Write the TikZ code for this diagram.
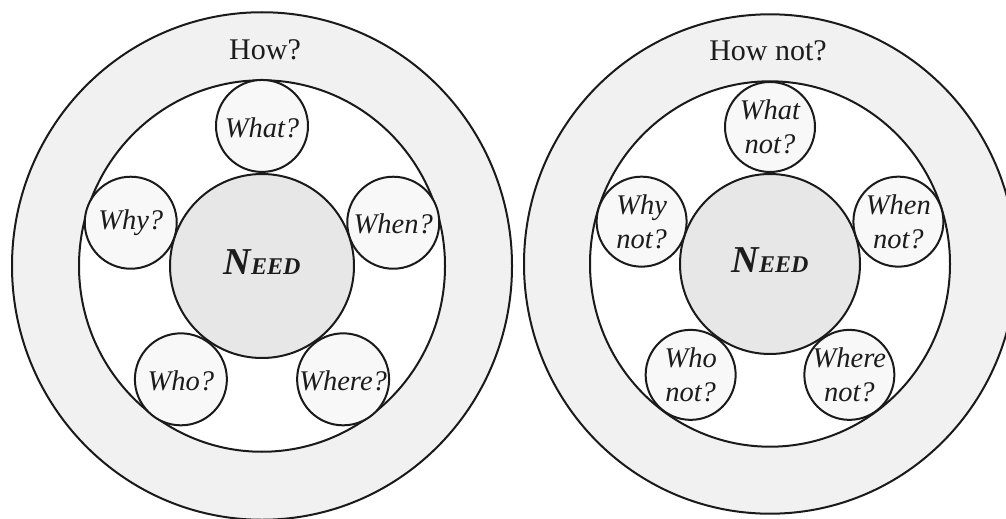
\documentclass[tikz,border=0pt]{standalone}
\usepackage{fontspec}
\setmainfont{Liberation Serif}
\definecolor{linec}{HTML}{1A1A1A}
\definecolor{textc}{HTML}{1C1C1C}
\definecolor{ringfill}{HTML}{F1F1F1}
\definecolor{corefill}{HTML}{E7E7E7}
\definecolor{bubfill}{HTML}{F8F8F8}
\newcommand{\needword}{{\fontsize{38}{38}\selectfont N}{\fontsize{24}{24}\selectfont EED}}
\begin{document}
% y grows downwards, so angles are measured clockwise from the right
\begin{tikzpicture}[x=1pt,y=-1pt,
  ring/.style={draw=linec, line width=2pt, fill=ringfill},
  hole/.style={draw=linec, line width=2pt, fill=white},
  core/.style={circle, draw=linec, line width=2pt, fill=corefill, inner sep=0pt},
  bubble/.style={circle, draw=linec, line width=2pt, fill=bubfill, inner sep=0pt},
  asktext/.style={font=\fontsize{28.5}{34}\selectfont\itshape, text=textc, align=center, inner sep=0pt},
  howtext/.style={font=\fontsize{30}{34}\selectfont, text=textc, inner sep=0pt, anchor=base},
  needtext/.style={font=\bfseries\itshape, text=textc, inner sep=0pt, anchor=base}]
\useasboundingbox (0,0) rectangle (1006,519);
\clip (0,0) rectangle (1006,519);

% ---------- left wheel: the questions ----------
\coordinate (L) at (262,266);
\begin{scope}[shift={(L)}, yscale=1.015]
  \draw[ring] (0,0) circle [radius=250];
  \draw[hole] (0,0) circle [radius=183];
  \node[core, minimum size=184] (needL) at (0,0) {};
  \node[bubble, minimum size=92] (whatL)  at (-90:138) {};
  \node[bubble, minimum size=92] (whenL)  at (-18:138) {};
  \node[bubble, minimum size=92] (whereL) at (54:138)  {};
  \node[bubble, minimum size=92] (whoL)   at (126:138) {};
  \node[bubble, minimum size=92] (whyL)   at (198:138) {};
\end{scope}
\node[howtext] (howL) at (265,59.5) {How?};
\node[needtext] (needLt) at ([yshift=-8.5pt]needL.center) {\needword};
\node[asktext] (whatLt)  at ([yshift=-1.5pt]whatL.center)  {What?};
\node[asktext] (whenLt)  at ([yshift=-1.5pt]whenL.center)  {When?};
\node[asktext] (whereLt) at ([yshift=-1.5pt]whereL.center) {Where?};
\node[asktext] (whoLt)   at ([yshift=-1.5pt]whoL.center)   {Who?};
\node[asktext] (whyLt)   at (whyL)   {Why?};

% ---------- right wheel: the negated questions ----------
\coordinate (R) at (770,264);
\begin{scope}[shift={(R)}, yscale=1.015]
  \draw[ring] (0,0) circle [radius=246];
  \draw[hole] (0,0) circle [radius=180];
  \node[core, minimum size=180] (needR) at (0,0) {};
  \node[bubble, minimum size=90] (whatR)  at (-90:135) {};
  \node[bubble, minimum size=90] (whenR)  at (-18:135) {};
  \node[bubble, minimum size=90] (whereR) at (54:135)  {};
  \node[bubble, minimum size=90] (whoR)   at (126:135) {};
  \node[bubble, minimum size=90] (whyR)   at (198:135) {};
\end{scope}
\node[howtext] (howR) at (768,60) {How not?};
\node[needtext] (needRt) at ([yshift=-8pt]needR.center) {\needword};
\node[asktext] (whatRt)  at (whatR)  {What\\not?};
\node[asktext] (whenRt)  at (whenR)  {When\\not?};
\node[asktext] (whereRt) at (whereR) {Where\\not?};
\node[asktext] (whoRt)   at (whoR)   {Who\\not?};
\node[asktext] (whyRt)   at (whyR)   {Why\\not?};
\end{tikzpicture}
\end{document}
